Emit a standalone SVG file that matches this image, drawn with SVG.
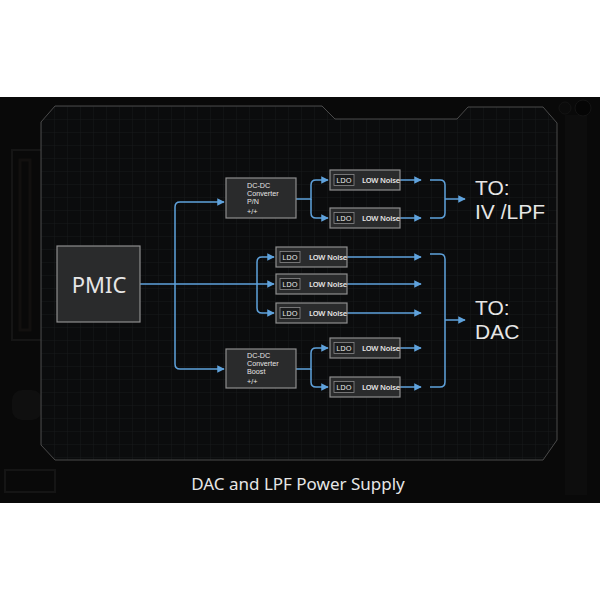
<svg xmlns="http://www.w3.org/2000/svg" width="600" height="600" viewBox="0 0 600 600">
<defs>
<pattern id="grid" width="13" height="13" patternUnits="userSpaceOnUse" x="41" y="106">
<path d="M0,0 H13 M0,0 V13" fill="none" stroke="#17191b" stroke-width="1"/>
</pattern>
<marker id="arr" viewBox="0 0 10 10" refX="9" refY="5" markerWidth="5" markerHeight="5" orient="auto" markerUnits="strokeWidth">
<path d="M0,0 L10,5 L0,10 Z" fill="#5fa2dc"/>
</marker>
<style>
.box{fill:#2a2b2c;stroke:#8e8e8e;stroke-width:1.2}
.ldo{fill:#1b1c1d;stroke:#8a8a8a;stroke-width:0.8}
.t{font-family:"Noto Sans","Liberation Sans",sans-serif;fill:#e6e6e6}
.s{font-size:7.5px}
.d{font-family:"Liberation Sans","DejaVu Sans",sans-serif;font-size:7.2px;fill:#e6e6e6}
.lb{font-size:7.5px;font-weight:600;letter-spacing:-0.2px}
.big{font-family:"Liberation Sans","DejaVu Sans",sans-serif;font-size:21px;fill:#e6e6e6}
.ln{fill:none;stroke:#5fa2dc;stroke-width:1.5}
.deco{fill:none;stroke:#151515;stroke-width:2}
</style>
</defs>
<rect width="600" height="600" fill="#ffffff"/>
<rect x="0" y="97" width="600" height="406" fill="#090909"/>
<g id="decor">
<rect x="12" y="150" width="34" height="190" class="deco"/>
<rect x="20" y="160" width="10" height="170" fill="none" stroke="#12100f" stroke-width="3"/>
<rect x="565" y="115" width="22" height="380" fill="#0d0d0d"/>
<circle cx="583" cy="108" r="8" fill="#050505" stroke="#141414"/>
<circle cx="565" cy="108" r="6" fill="#0b0b0b" stroke="#141414"/>
<rect x="5" y="470" width="50" height="22" class="deco"/>
<rect x="12" y="390" width="30" height="30" rx="10" fill="#0f0f0f"/>
</g>
<g id="panel">
<path d="M55,106 H322 L335,119 H457 L468,107 H543 L557,123 V440 L543,460 H55 L41,445 V122 Z" fill="#0b0c0d"/>
<path d="M55,106 H322 L335,119 H457 L468,107 H543 L557,123 V440 L543,460 H55 L41,445 V122 Z" fill="url(#grid)"/>
<path d="M55,106 H322 L335,119 H457 L468,107 H543 L557,123 V440 L543,460 H55 L41,445 V122 Z" fill="none" stroke="#4a4a4a" stroke-width="1"/>
</g>
<g id="connectors">
<path class="ln" d="M140,284 H274" marker-end="url(#arr)"/>
<path class="ln" d="M175,284 V207 Q175,202 180,202 H224" marker-end="url(#arr)"/>
<path class="ln" d="M175,284 V364 Q175,369 180,369 H224" marker-end="url(#arr)"/>
<path class="ln" d="M257,284 V262 Q257,257 262,257 H274" marker-end="url(#arr)"/>
<path class="ln" d="M257,284 V308 Q257,313 262,313 H274" marker-end="url(#arr)"/>
<path class="ln" d="M296,199 H311 V185 Q311,180 316,180 H328" marker-end="url(#arr)"/>
<path class="ln" d="M311,199 V213 Q311,218 316,218 H328" marker-end="url(#arr)"/>
<path class="ln" d="M296,369 H311 V353 Q311,348 316,348 H328" marker-end="url(#arr)"/>
<path class="ln" d="M311,369 V382 Q311,387 316,387 H328" marker-end="url(#arr)"/>
<path class="ln" d="M400,180 H421" marker-end="url(#arr)"/>
<path class="ln" d="M400,218 H421" marker-end="url(#arr)"/>
<path class="ln" d="M347,257 H421" marker-end="url(#arr)"/>
<path class="ln" d="M347,284 H421" marker-end="url(#arr)"/>
<path class="ln" d="M347,313 H421" marker-end="url(#arr)"/>
<path class="ln" d="M400,348 H421" marker-end="url(#arr)"/>
<path class="ln" d="M400,387 H421" marker-end="url(#arr)"/>
<path class="ln" d="M430,180 H440 Q445,180 445,185 V213 Q445,218 440,218 H430"/>
<path class="ln" d="M445,199 H465" marker-end="url(#arr)"/>
<path class="ln" d="M430,254 H440 Q445,254 445,259 V382 Q445,387 440,387 H430"/>
<path class="ln" d="M445,320 H465" marker-end="url(#arr)"/>
</g>
<g id="pmic">
<rect class="box" x="57" y="246" width="83" height="76" fill="#2d2e2f"/>
<text class="t" x="99" y="293" font-size="22" text-anchor="middle">PMIC</text>
</g>
<g id="dcdc-pn">
<rect class="box" x="226" y="178" width="70" height="40"/>
<text class="d" x="247" y="187.5">DC-DC</text>
<text class="d" x="247" y="195.5">Converter</text>
<text class="d" x="247" y="203.5">P/N</text>
<text class="d" x="247" y="213.5">+/+</text>
</g>
<g id="dcdc-boost">
<rect class="box" x="226" y="349" width="70" height="39"/>
<text class="d" x="247" y="357.5">DC-DC</text>
<text class="d" x="247" y="365.5">Converter</text>
<text class="d" x="247" y="373.5">Boost</text>
<text class="d" x="247" y="383.5">+/+</text>
</g>
<g id="ldo1">
<rect class="box" x="330" y="170" width="70" height="20"/>
<rect class="ldo" x="334" y="174.5" width="20" height="11"/>
<text class="t s" x="344" y="182.7" text-anchor="middle">LDO</text>
<text class="t lb" x="362" y="182.7">LOW Noise</text>
</g>
<g id="ldo2">
<rect class="box" x="330" y="208" width="70" height="20"/>
<rect class="ldo" x="334" y="212.5" width="20" height="11"/>
<text class="t s" x="344" y="220.7" text-anchor="middle">LDO</text>
<text class="t lb" x="362" y="220.7">LOW Noise</text>
</g>
<g id="ldo3">
<rect class="box" x="276" y="247" width="71" height="20"/>
<rect class="ldo" x="280" y="251.5" width="20" height="11"/>
<text class="t s" x="290" y="259.7" text-anchor="middle">LDO</text>
<text class="t lb" x="309" y="259.7">LOW Noise</text>
</g>
<g id="ldo4">
<rect class="box" x="276" y="274" width="71" height="20"/>
<rect class="ldo" x="280" y="278.5" width="20" height="11"/>
<text class="t s" x="290" y="286.7" text-anchor="middle">LDO</text>
<text class="t lb" x="309" y="286.7">LOW Noise</text>
</g>
<g id="ldo5">
<rect class="box" x="276" y="303" width="71" height="20"/>
<rect class="ldo" x="280" y="307.5" width="20" height="11"/>
<text class="t s" x="290" y="315.7" text-anchor="middle">LDO</text>
<text class="t lb" x="309" y="315.7">LOW Noise</text>
</g>
<g id="ldo6">
<rect class="box" x="330" y="338" width="70" height="20"/>
<rect class="ldo" x="334" y="342.5" width="20" height="11"/>
<text class="t s" x="344" y="350.7" text-anchor="middle">LDO</text>
<text class="t lb" x="362" y="350.7">LOW Noise</text>
</g>
<g id="ldo7">
<rect class="box" x="330" y="377" width="70" height="20"/>
<rect class="ldo" x="334" y="381.5" width="20" height="11"/>
<text class="t s" x="344" y="389.7" text-anchor="middle">LDO</text>
<text class="t lb" x="362" y="389.7">LOW Noise</text>
</g>
<g id="to-ivlpf">
<text class="big" x="475" y="195">TO:</text>
<text class="big" x="475" y="219">IV /LPF</text>
</g>
<g id="to-dac">
<text class="big" x="475" y="315">TO:</text>
<text class="big" x="475" y="339">DAC</text>
</g>
<text class="t" x="298" y="490" font-size="17" text-anchor="middle">DAC and LPF Power Supply</text>
</svg>
